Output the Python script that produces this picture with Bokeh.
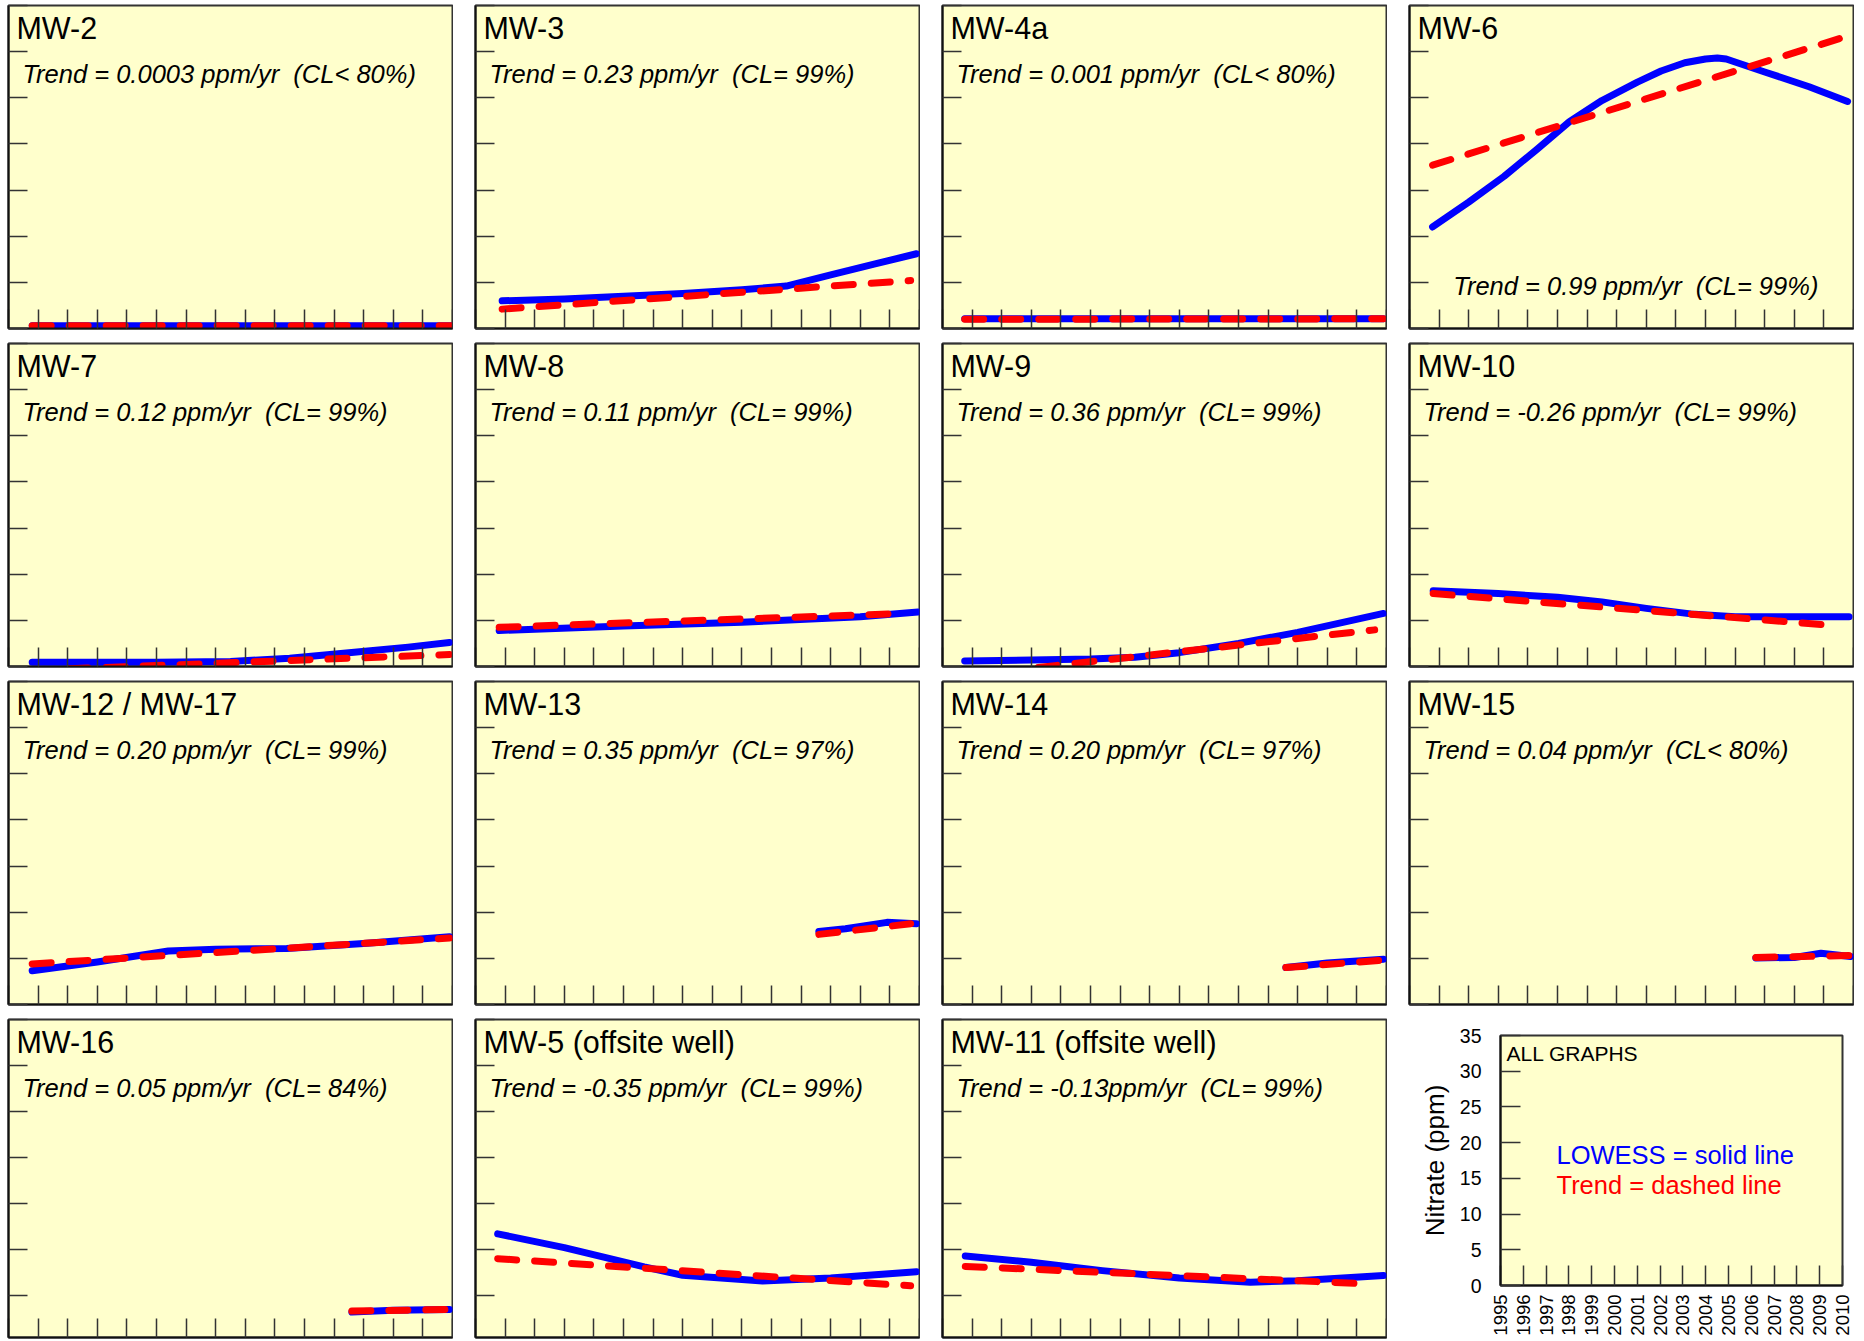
import numpy as np
from bokeh.plotting import figure
from bokeh.layouts import column, row
from bokeh.models import FixedTicker, Label, CustomLabelingPolicy
from bokeh.embed import file_html
from bokeh.resources import INLINE

FONT = "Liberation Sans"
BG = "#FFFFCC"

YEAR_TICKS = list(range(1995, 2011))
PPM_TICKS = [0, 5, 10, 15, 20, 25, 30, 35]

# ---------------- data ----------------
MW2_LOWESS_YR = [1995.8, 2010.0]
MW2_LOWESS = [0.3, 0.3]
MW2_TREND_YR = [1995.8, 2010.0]
MW2_TREND = [0.3, 0.3]

MW3_LOWESS_YR = [1995.9, 1998.0, 2000.0, 2002.0, 2004.0, 2005.5, 2007.0, 2008.5, 2009.9]
MW3_LOWESS = [3.0, 3.2, 3.5, 3.8, 4.2, 4.6, 5.8, 7.0, 8.1]
MW3_TREND_YR = [1995.9, 2009.7]
MW3_TREND = [2.1, 5.2]

MW4A_LOWESS_YR = [1995.75, 2009.9]
MW4A_LOWESS = [1.05, 1.05]
MW4A_TREND_YR = [1995.75, 2009.9]
MW4A_TREND = [1.0, 1.05]

MW6_LOWESS_YR = [1995.78, 1997.0, 1998.2, 1999.3, 2000.4, 2001.5, 2002.7, 2003.5, 2004.3,
                 2005.0, 2005.4, 2005.7, 2007.0, 2008.5, 2009.8]
MW6_LOWESS = [11.0, 13.7, 16.5, 19.4, 22.4, 24.7, 26.7, 27.9, 28.8,
              29.2, 29.3, 29.2, 27.8, 26.2, 24.6]
MW6_TREND_YR = [1995.78, 2009.82]
MW6_TREND = [17.7, 31.7]

MW7_LOWESS_YR = [1995.8, 2000.0, 2002.5, 2004.5, 2006.5, 2008.5, 2009.9]
MW7_LOWESS = [0.45, 0.45, 0.55, 0.9, 1.5, 2.1, 2.6]
MW7_TREND_YR = [1995.8, 2009.9]
MW7_TREND = [-0.4, 1.3]

MW8_LOWESS_YR = [1995.8, 2000.0, 2004.0, 2008.0, 2009.95]
MW8_LOWESS = [3.9, 4.4, 4.8, 5.4, 5.9]
MW8_TREND_YR = [1995.8, 2009.5]
MW8_TREND = [4.25, 5.75]

MW9_LOWESS_YR = [1995.75, 1998.0, 2000.0, 2001.5, 2003.0, 2005.0, 2007.0, 2009.9]
MW9_LOWESS = [0.6, 0.7, 0.8, 1.0, 1.5, 2.5, 3.7, 5.75]
MW9_TREND_YR = [1995.75, 2009.6]
MW9_TREND = [-1.0, 3.97]

MW10_LOWESS_YR = [1995.8, 1998.0, 2000.0, 2001.5, 2003.0, 2004.5, 2006.0, 2008.0, 2009.85]
MW10_LOWESS = [8.2, 7.9, 7.5, 7.0, 6.3, 5.7, 5.4, 5.4, 5.4]
MW10_TREND_YR = [1995.8, 2009.5]
MW10_TREND = [7.9, 4.4]

MW12_LOWESS_YR = [1995.8, 1998.0, 2000.4, 2002.0, 2004.4, 2007.0, 2009.9]
MW12_LOWESS = [3.65, 4.6, 5.8, 6.0, 6.07, 6.6, 7.35]
MW12_TREND_YR = [1995.8, 2009.9]
MW12_TREND = [4.4, 7.2]

MW13_LOWESS_YR = [2006.6, 2007.5, 2008.9, 2009.9]
MW13_LOWESS = [7.9, 8.2, 8.9, 8.75]
MW13_TREND_YR = [2006.6, 2009.7]
MW13_TREND = [7.6, 8.75]

MW14_LOWESS_YR = [2006.6, 2008.0, 2009.9]
MW14_LOWESS = [4.0, 4.5, 4.9]
MW14_TREND_YR = [2006.6, 2009.9]
MW14_TREND = [4.0, 4.8]

MW15_LOWESS_YR = [2006.7, 2008.0, 2008.9, 2009.9]
MW15_LOWESS = [5.05, 5.1, 5.56, 5.2]
MW15_TREND_YR = [2006.7, 2009.9]
MW15_TREND = [5.1, 5.3]

MW16_LOWESS_YR = [2006.6, 2008.0, 2009.9]
MW16_LOWESS = [3.2, 3.4, 3.47]
MW16_TREND_YR = [2006.6, 2009.8]
MW16_TREND = [3.3, 3.47]

MW5_LOWESS_YR = [1995.75, 1998.0, 2000.7, 2002.0, 2004.7, 2007.0, 2009.9]
MW5_LOWESS = [11.7, 10.2, 8.1, 7.2, 6.56, 6.9, 7.58]
MW5_TREND_YR = [1995.75, 2009.7]
MW5_TREND = [9.0, 6.05]

MW11_LOWESS_YR = [1995.77, 1998.0, 2000.4, 2003.0, 2005.4, 2007.0, 2009.9]
MW11_LOWESS = [9.3, 8.6, 7.7, 6.9, 6.44, 6.6, 7.16]
MW11_TREND_YR = [1995.77, 2009.4]
MW11_TREND = [8.16, 6.26]

WELL_NAMES = ["MW-2", "MW-3", "MW-4a", "MW-6",
              "MW-7", "MW-8", "MW-9", "MW-10",
              "MW-12 / MW-17", "MW-13", "MW-14", "MW-15",
              "MW-16", "MW-5 (offsite well)", "MW-11 (offsite well)"]
TREND_TEXTS = ["Trend = 0.0003 ppm/yr\u00a0 (CL< 80%)",
               "Trend = 0.23 ppm/yr\u00a0 (CL= 99%)",
               "Trend = 0.001 ppm/yr\u00a0 (CL< 80%)",
               "Trend = 0.99 ppm/yr\u00a0 (CL= 99%)",
               "Trend = 0.12 ppm/yr\u00a0 (CL= 99%)",
               "Trend = 0.11 ppm/yr\u00a0 (CL= 99%)",
               "Trend = 0.36 ppm/yr\u00a0 (CL= 99%)",
               "Trend = -0.26 ppm/yr\u00a0 (CL= 99%)",
               "Trend = 0.20 ppm/yr\u00a0 (CL= 99%)",
               "Trend = 0.35 ppm/yr\u00a0 (CL= 97%)",
               "Trend = 0.20 ppm/yr\u00a0 (CL= 97%)",
               "Trend = 0.04 ppm/yr\u00a0 (CL< 80%)",
               "Trend = 0.05 ppm/yr\u00a0 (CL= 84%)",
               "Trend = -0.35 ppm/yr\u00a0 (CL= 99%)",
               "Trend = -0.13ppm/yr\u00a0 (CL= 99%)"]

SERIES = [
    (MW2_LOWESS_YR, MW2_LOWESS, MW2_TREND_YR, MW2_TREND),
    (MW3_LOWESS_YR, MW3_LOWESS, MW3_TREND_YR, MW3_TREND),
    (MW4A_LOWESS_YR, MW4A_LOWESS, MW4A_TREND_YR, MW4A_TREND),
    (MW6_LOWESS_YR, MW6_LOWESS, MW6_TREND_YR, MW6_TREND),
    (MW7_LOWESS_YR, MW7_LOWESS, MW7_TREND_YR, MW7_TREND),
    (MW8_LOWESS_YR, MW8_LOWESS, MW8_TREND_YR, MW8_TREND),
    (MW9_LOWESS_YR, MW9_LOWESS, MW9_TREND_YR, MW9_TREND),
    (MW10_LOWESS_YR, MW10_LOWESS, MW10_TREND_YR, MW10_TREND),
    (MW12_LOWESS_YR, MW12_LOWESS, MW12_TREND_YR, MW12_TREND),
    (MW13_LOWESS_YR, MW13_LOWESS, MW13_TREND_YR, MW13_TREND),
    (MW14_LOWESS_YR, MW14_LOWESS, MW14_TREND_YR, MW14_TREND),
    (MW15_LOWESS_YR, MW15_LOWESS, MW15_TREND_YR, MW15_TREND),
    (MW16_LOWESS_YR, MW16_LOWESS, MW16_TREND_YR, MW16_TREND),
    (MW5_LOWESS_YR, MW5_LOWESS, MW5_TREND_YR, MW5_TREND),
    (MW11_LOWESS_YR, MW11_LOWESS, MW11_TREND_YR, MW11_TREND),
]

# ---------------- layout constants ----------------
FRAME_W = 447
FRAME_H = 326
LAST_FIG_H = 323          # last row is cut by the page bottom, as in the picture
LAST_FRAME_H = LAST_FIG_H - 1
PX_PER_PPM = FRAME_H / 35.0
PX_PER_YR = FRAME_W / 15.0

HIDE_LABELS = "for (const i of indices) { indices.unset(i) }\nreturn indices"


def style_axes(p, tick_len=19):
    p.xaxis.ticker = FixedTicker(ticks=YEAR_TICKS)
    p.yaxis.ticker = FixedTicker(ticks=PPM_TICKS)
    for ax in (p.xaxis, p.yaxis):
        ax.major_tick_in = tick_len
        ax.major_tick_out = 0
        ax.minor_tick_in = 0
        ax.minor_tick_out = 0
        ax.axis_line_color = "#111111"
        ax.axis_line_width = 2
        ax.major_tick_line_color = "#333333"
        ax.major_tick_line_width = 1.5
    p.grid.visible = False


def make_panel(i, last):
    name = WELL_NAMES[i]
    ttext = TREND_TEXTS[i]
    lyr, lval, tyr, tval = SERIES[i]
    if last:
        fig_h, frame_h, mb_bottom = LAST_FIG_H, LAST_FRAME_H, 0
    else:
        fig_h, frame_h, mb_bottom = FRAME_H + 2, FRAME_H, 1
    y0 = 35 - frame_h / PX_PER_PPM
    p = figure(width=FRAME_W + 2, height=fig_h,
               x_range=(1995, 2010), y_range=(y0, 35),
               output_backend="svg", toolbar_location=None,
               min_border_left=1, min_border_right=1,
               min_border_top=1, min_border_bottom=mb_bottom,
               background_fill_color=BG,
               outline_line_color="#333333", outline_line_width=2,
               frame_align=False)
    style_axes(p)
    for ax in (p.xaxis, p.yaxis):
        ax.major_label_text_font_size = "1px"
        ax.major_label_standoff = 0
        ax.major_label_policy = CustomLabelingPolicy(code=HIDE_LABELS)
    p.line(lyr, lval, line_color="#0000FF", line_width=7,
           line_cap="round", line_join="round")
    p.line(tyr, tval, line_color="#FF0000", line_width=7,
           line_dash="19 18", line_cap="round", line_join="round")

    def xd(px):
        return 1995 + px / PX_PER_YR

    def yd(px_from_top):
        return 35 - px_from_top / PX_PER_PPM

    # text positions: vertical centre of the capitals, px below frame top
    p.add_layout(Label(x=xd(8), y=yd(22.5), text=name, text_font=FONT,
                       text_font_size="30.5px", text_color="black",
                       text_baseline="middle", text_align="left"))
    if name == "MW-6":
        tx, ty = xd(44), yd(283)
    else:
        tx, ty = xd(14), yd(69)
    p.add_layout(Label(x=tx, y=ty, text=ttext, text_font=FONT,
                       text_font_style="italic",
                       text_font_size="25.5px", text_color="black",
                       text_baseline="middle", text_align="left"))
    return p


def make_key():
    frame_h = 250
    p = figure(width=FRAME_W + 2, height=LAST_FIG_H,
               x_range=(1995, 2010), y_range=(0, 35),
               output_backend="svg", toolbar_location=None,
               min_border_left=95, min_border_right=12,
               min_border_top=17, min_border_bottom=LAST_FIG_H - 17 - frame_h,
               background_fill_color=BG,
               outline_line_color="#333333", outline_line_width=2,
               frame_align=False)
    style_axes(p, tick_len=20)
    p.yaxis.major_label_text_font = FONT
    p.yaxis.major_label_text_font_size = "19.5px"
    p.yaxis.major_label_text_color = "black"
    p.yaxis.major_label_standoff = 19
    p.yaxis.axis_label = "Nitrate (ppm)"
    p.yaxis.axis_label_text_font = FONT
    p.yaxis.axis_label_text_font_size = "26px"
    p.yaxis.axis_label_text_font_style = "normal"
    p.yaxis.axis_label_text_color = "black"
    p.yaxis.axis_label_standoff = 7
    p.xaxis.major_label_text_font = FONT
    p.xaxis.major_label_text_font_size = "18.5px"
    p.xaxis.major_label_text_color = "black"
    p.xaxis.major_label_orientation = np.pi / 2
    p.xaxis.major_label_standoff = 9
    kx = 342 / 15.0
    ky = frame_h / 35.0
    p.add_layout(Label(x=1995 + 6 / kx, y=35 - 17.5 / ky, text="ALL GRAPHS",
                       text_font=FONT, text_font_size="21px", text_color="black",
                       text_baseline="middle"))
    p.add_layout(Label(x=1995 + 56 / kx, y=35 - 119 / ky, text="LOWESS = solid line",
                       text_font=FONT, text_font_size="25.5px", text_color="#0000FF",
                       text_baseline="middle"))
    p.add_layout(Label(x=1995 + 56 / kx, y=35 - 149 / ky, text="Trend = dashed line",
                       text_font=FONT, text_font_size="25.5px", text_color="#FF0000",
                       text_baseline="middle"))
    return p


rows = []
for r in range(4):
    figs = []
    for c in range(4):
        i = r * 4 + c
        if r == 3 and c == 3:
            figs.append(make_key())
        else:
            figs.append(make_panel(i, r == 3))
    rows.append(row(*figs, spacing=18))

layout = column(*rows, spacing=10, margin=(4, 0, 0, 4))

open("out.html", "w").write(file_html(layout, INLINE))
